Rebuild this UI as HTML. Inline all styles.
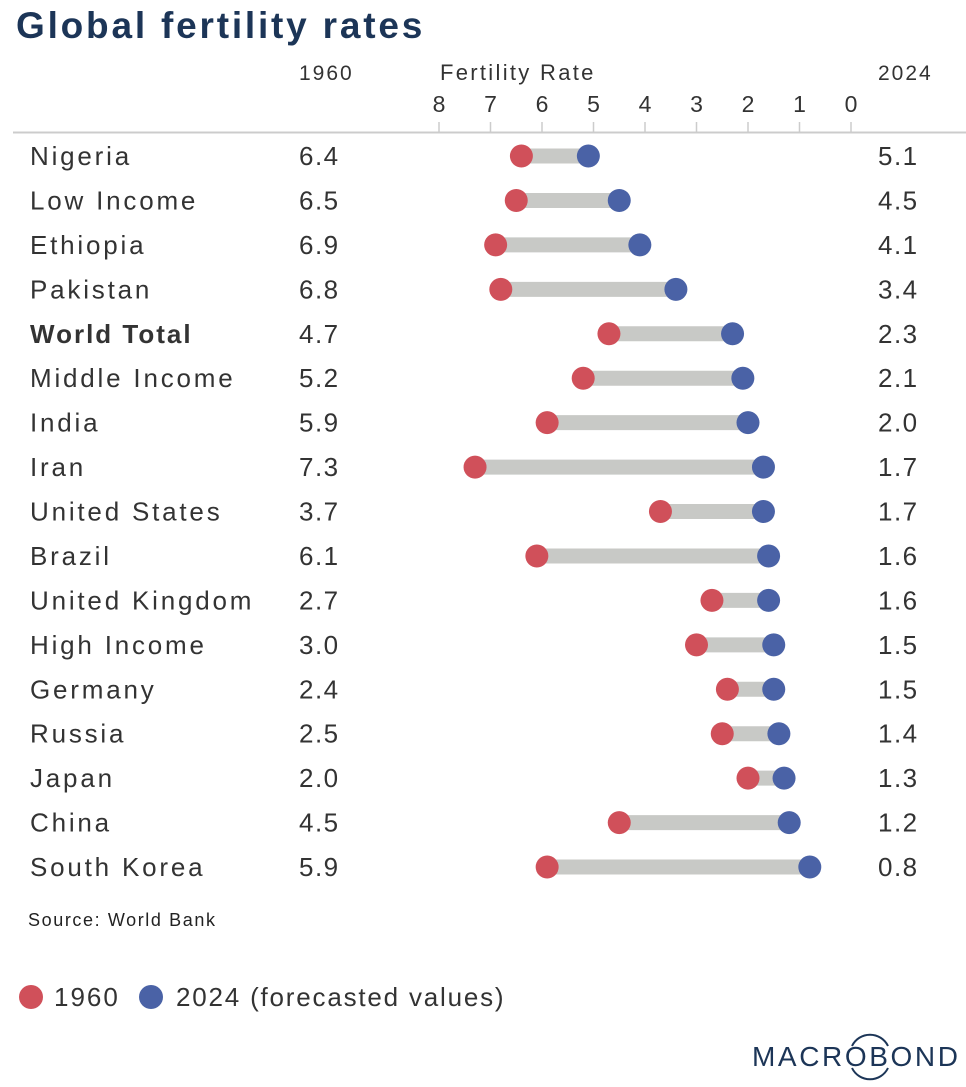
<!DOCTYPE html>
<html><head><meta charset="utf-8"><style>
body{margin:0;background:#fff;width:966px;height:1087px;overflow:hidden;font-family:"Liberation Sans",sans-serif}
svg{display:block}
</style></head><body>
<svg id="c" width="966" height="1087">
<text x="16" y="38" font-size="37" font-weight="bold" fill="#1c3557" letter-spacing="2.8">Global fertility rates</text>
<text x="299" y="80" font-size="21" fill="#333" letter-spacing="2">1960</text>
<text x="440" y="80" font-size="22" fill="#333" letter-spacing="2.3">Fertility Rate</text>
<text x="878" y="80" font-size="21" fill="#333" letter-spacing="2">2024</text>
<line x1="13" y1="132.5" x2="966" y2="132.5" stroke="#ccc" stroke-width="2"/>
<g id="axis"></g>
<g id="rows"></g>
<text x="28" y="926" font-size="18" fill="#222" letter-spacing="1.6">Source: World Bank</text>
<circle cx="31" cy="997" r="12" fill="#d0505a"/>
<text x="54" y="1006" font-size="26" fill="#333" letter-spacing="2">1960</text>
<circle cx="151" cy="997" r="12" fill="#4a62a6"/>
<text x="176" y="1006" font-size="26" fill="#333" letter-spacing="1.8">2024 (forecasted values)</text>
<g>
<text x="752" y="1066" font-size="28" fill="#1c3557" letter-spacing="2.6">MACROBOND</text>
<path d="M 852 1046 A 20 20 0 0 1 888 1046" fill="none" stroke="#1c3557" stroke-width="2"/>
<path d="M 852 1068 A 20 20 0 0 0 888 1068" fill="none" stroke="#1c3557" stroke-width="2"/>
</g>
</svg>
<script>
const countries=["Nigeria","Low Income","Ethiopia","Pakistan","World Total","Middle Income","India","Iran","United States","Brazil","United Kingdom","High Income","Germany","Russia","Japan","China","South Korea"];
const v1960=[6.4,6.5,6.9,6.8,4.7,5.2,5.9,7.3,3.7,6.1,2.7,3.0,2.4,2.5,2.0,4.5,5.9];
const v2024=[5.1,4.5,4.1,3.4,2.3,2.1,2.0,1.7,1.7,1.6,1.6,1.5,1.5,1.4,1.3,1.2,0.8];
const ticks=[8,7,6,5,4,3,2,1,0];
const NS="http://www.w3.org/2000/svg";
const x=v=>851-v*51.5;
const y=i=>156+i*44.44;
function mk(t,a,p){const e=document.createElementNS(NS,t);for(const k in a)e.setAttribute(k,a[k]);p.appendChild(e);return e;}
const ax=document.getElementById('axis');
ticks.forEach(t=>{
 const tx=mk('text',{x:x(t),y:112,'font-size':23,fill:'#333','text-anchor':'middle'},ax);tx.textContent=t;
 
 
 const l=mk('line',{x1:x(t),x2:x(t),y1:122,y2:132,stroke:'#ccc','stroke-width':1.5},ax);
 
 
});
const rg=document.getElementById('rows');
countries.forEach((c,i)=>{
 const yy=y(i);
 const g=mk('g',{},rg);
 
 
 const bold=c==="World Total";
 const n=mk('text',{x:30,y:yy+9,'font-size':26,fill:'#333','font-weight':bold?'bold':'normal','letter-spacing':bold?2:2.8},g);n.textContent=c;
 
 
 const a=mk('text',{x:299,y:yy+9,'font-size':26,fill:'#333','letter-spacing':1.5},g);a.textContent=v1960[i].toFixed(1);
 
 
 const b=mk('text',{x:878,y:yy+9,'font-size':26,fill:'#333','letter-spacing':1.5},g);b.textContent=v2024[i].toFixed(1);
 
 
 const bar=mk('line',{x1:x(v1960[i]),x2:x(v2024[i]),y1:yy,y2:yy,stroke:'#c8c9c6','stroke-width':15},g);
 
 
 const r=mk('circle',{cx:x(v1960[i]),cy:yy,r:11.5,fill:'#d0505a'},g);
 
 
 const bl=mk('circle',{cx:x(v2024[i]),cy:yy,r:11.5,fill:'#4a62a6'},g);
 
 
});
</script>
</body></html>
